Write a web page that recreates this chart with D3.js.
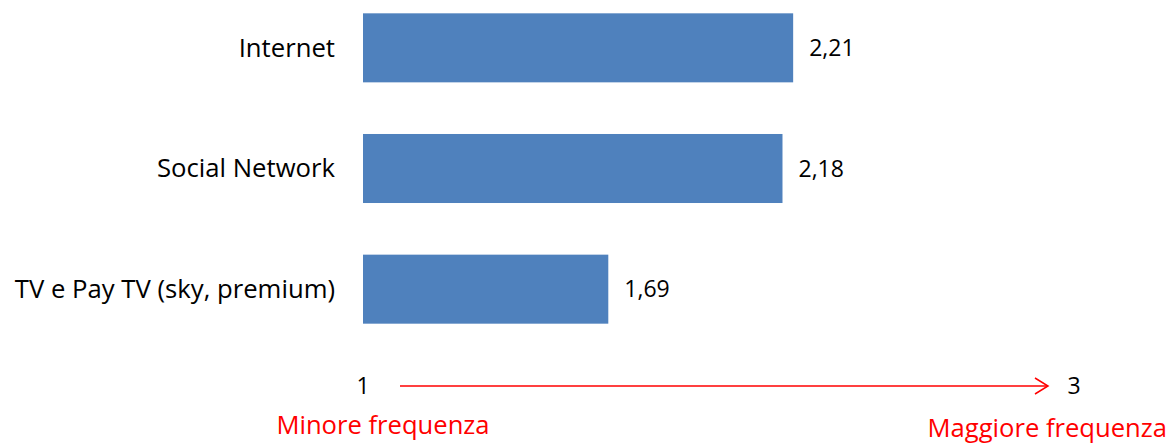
<!DOCTYPE html>
<html><head><meta charset="utf-8">
<script src="https://cdn.jsdelivr.net/npm/d3@7"></script>
<style>html,body{margin:0;padding:0;background:#fff;}svg{display:block;}text{font-family:"Open Sans",Lato,sans-serif;}</style>
</head><body>
<svg id="c" width="1171" height="444"></svg>
<script>
const categories = ["Internet", "Social Network", "TV e Pay TV (sky, premium)"];
const values = [2.21, 2.18, 1.69];
const valueLabels = ["2,21", "2,18", "1,69"];
const tickValues = [1, 3];
const tickLabels = ["1", "3"];
const endLabels = ["Minore frequenza", "Maggiore frequenza"];

const svg = d3.select("#c");
const x = d3.scaleLinear().domain([1, 3]).range([363, 1074]);
const y = d3.scaleBand().domain(categories).range([-12.5, 349.5]).paddingInner(0.428).paddingOuter(0.214);

const data = categories.map((c, i) => ({c, v: values[i], l: valueLabels[i]}));

svg.selectAll("rect.bar").data(data).join("rect").attr("class","bar")
  .attr("x", x(1)).attr("y", d => y(d.c))
  .attr("width", d => x(d.v) - x(1)).attr("height", y.bandwidth())
  .attr("fill", "#4F81BD");

svg.selectAll("text.cat").data(data).join("text").attr("class","cat")
  .attr("x", x(1) - 28).attr("y", d => y(d.c) + y.bandwidth()/2)
  .attr("dy", "0.35em").attr("text-anchor", "end")
  .attr("font-size", 25.7).attr("fill", "#000").text(d => d.c);

svg.selectAll("text.val").data(data).join("text").attr("class","val")
  .attr("x", d => x(d.v) + 16).attr("y", d => y(d.c) + y.bandwidth()/2)
  .attr("dy", "0.35em").attr("font-size", 23).attr("fill", "#000").text(d => d.l);

// axis tick labels
const axisY = 386;
svg.selectAll("text.tick").data(tickValues).join("text").attr("class","tick")
  .attr("x", d => x(d)).attr("y", axisY).attr("dy","0.35em")
  .attr("text-anchor","middle").attr("font-size", 23).attr("fill","#000")
  .text((d,i) => tickLabels[i]);

// arrow
const ax0 = x(1) + 37, ax1 = x(3) - 26;
svg.append("line").attr("x1", ax0).attr("x2", ax1).attr("y1", axisY).attr("y2", axisY)
  .attr("stroke", "#FF0000").attr("stroke-width", 1.5);
svg.append("path").attr("d", `M${ax1-13},${axisY-8} L${ax1},${axisY} L${ax1-13},${axisY+8}`)
  .attr("fill","none").attr("stroke","#FF0000").attr("stroke-width",1.5);

// end labels
svg.append("text").attr("x", 383).attr("y", 434).attr("text-anchor","middle")
  .attr("font-size", 25.6).attr("fill","#FF0000").text(endLabels[0]);
svg.append("text").attr("x", 1167).attr("y", 437).attr("text-anchor","end")
  .attr("font-size", 25.6).attr("fill","#FF0000").text(endLabels[1]);
</script>
</body></html>
